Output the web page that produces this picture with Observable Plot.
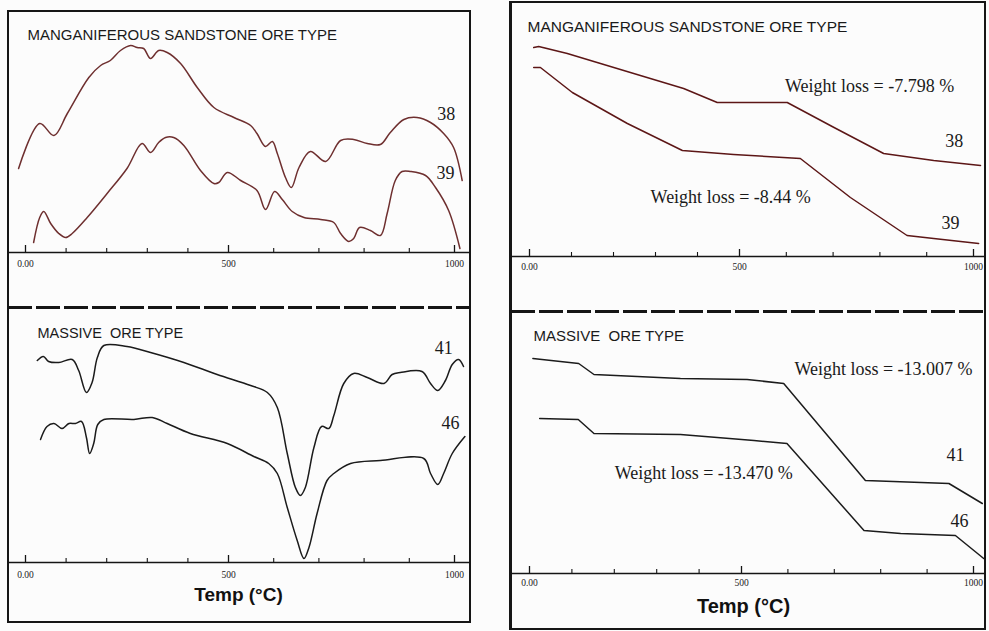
<!DOCTYPE html>
<html><head><meta charset="utf-8">
<script src="https://cdn.jsdelivr.net/npm/d3@7"></script>
<script src="https://cdn.jsdelivr.net/npm/@observablehq/plot@0.6"></script>
<style>
html,body{margin:0;padding:0;background:#fff;}
#root{position:relative;width:989px;height:631px;overflow:hidden;background:#fcfcfc;}
.box{position:absolute;border:2px solid #161616;box-sizing:border-box;}
.dash{position:absolute;height:3px;background:repeating-linear-gradient(90deg,#151515 0 24px,transparent 24px 28px);}
.panel{position:absolute;}
</style></head><body>
<div id="root">
  <div class="box" style="left:7px;top:10px;width:464px;height:613px;"></div>
  <div class="box" style="left:509px;top:1px;width:477px;height:629px;border-left-width:3px;"></div>
  <div class="dash" style="left:8px;top:306px;width:462px;"></div>
  <div class="dash" style="left:511px;top:310px;width:474px;"></div>
  <div class="panel" id="p1" style="left:8px;top:10px;"></div>
  <div class="panel" id="p2" style="left:8px;top:310px;"></div>
  <div class="panel" id="p3" style="left:510px;top:2px;"></div>
  <div class="panel" id="p4" style="left:510px;top:315px;"></div>
</div>
<script>
const sans = "'Liberation Sans', Arial, sans-serif";
const serif = "'Liberation Serif', 'Times New Roman', serif";

// Temperature axis (°C)
const tickMajor = [0, 500, 1000];
const tickMinor = [100, 200, 300, 400, 600, 700, 800, 900];

// DTA – manganiferous sandstone ore (arbitrary signal units)
const dtaSand38T = [-17, 35, 70, 103, 156, 185, 209, 234, 259, 275, 291, 308, 328, 349, 382, 423, 464, 512, 549, 563, 582, 597, 608, 626, 639, 656, 681, 715, 748, 777, 807, 836, 858, 888, 917, 947, 976, 998, 1017];
const dtaSand38S = [84, 129, 117, 139, 175, 187, 192, 202, 207, 205, 204, 194, 202, 200, 189, 165, 145, 135, 127, 119, 106, 111, 99, 75, 65, 85, 101, 91, 112, 113, 109, 108, 120, 133, 135, 130, 119, 105, 72];
const dtaSand39T = [20, 35, 45, 62, 82, 99, 115, 152, 201, 250, 287, 308, 328, 345, 365, 390, 431, 464, 476, 497, 527, 563, 582, 602, 619, 641, 667, 704, 733, 748, 766, 777, 790, 814, 836, 851, 869, 884, 903, 936, 958, 987, 1012];
const dtaSand39S = [10, 35, 41, 29, 19, 15, 19, 35, 59, 84, 109, 100, 110, 115, 115, 107, 82, 69, 70, 80, 72, 62, 43, 61, 53, 41, 35, 33, 30, 19, 11, 14, 25, 22, 17, 39, 72, 81, 81, 77, 65, 42, 4];

// DTA – massive ore
const dtaMass41T = [29, 44, 57, 82, 115, 131, 150, 164, 177, 193, 250, 308, 390, 472, 549, 586, 608, 630, 648, 659, 670, 689, 706, 722, 733, 755, 777, 807, 844, 862, 880, 928, 947, 963, 980, 995, 1009, 1020];
const dtaMass41S = [202, 206, 201, 200, 203, 192, 170, 180, 205, 217, 216, 210, 200, 188, 177, 170, 155, 109, 75, 67, 75, 115, 136, 134, 147, 179, 189, 185, 179, 188, 190, 191, 179, 172, 182, 198, 203, 196];
const dtaMass46T = [37, 53, 70, 90, 107, 123, 138, 150, 158, 168, 178, 193, 267, 312, 349, 406, 497, 556, 589, 608, 630, 652, 667, 678, 696, 718, 733, 770, 836, 932, 947, 963, 976, 995, 1023];
const dtaMass46S = [123, 136, 139, 134, 139, 139, 141, 125, 109, 119, 138, 143, 143, 145, 139, 129, 119, 106, 99, 89, 55, 22, 4, 15, 49, 82, 89, 99, 102, 104, 89, 78, 89, 109, 126];

// TGA – manganiferous sandstone ore (relative weight units)
const tgaSand38T = [10, 22, 90, 169, 264, 367, 447, 602, 702, 808, 915, 1015];
const tgaSand38S = [209, 210, 203, 193, 181, 168, 154, 154, 129, 103, 96, 91];
const tgaSand39T = [10, 26, 102, 233, 364, 486, 630, 737, 858, 915, 1011];
const tgaSand39S = [189, 189, 164, 133, 106, 102, 98, 59, 21, 18, 13];

// TGA – massive ore
const tgaMass41T = [8, 116, 152, 356, 512, 591, 767, 947, 1019];
const tgaMass41S = [215, 210, 199, 195, 194, 190, 93, 90, 70];
const tgaMass46T = [24, 115, 152, 356, 527, 598, 764, 843, 961, 1022];
const tgaMass46S = [155, 154, 140, 139, 133, 130, 43, 40, 38, 15];

// Annotations
const dtaSandNum = ["38", "39"], dtaSandNumT = [982, 980], dtaSandNumS = [138, 79];
const dtaMassNum = ["41", "46"], dtaMassNumT = [976, 991], dtaMassNumS = [214, 139];
const tgaSandNum = ["38", "39"], tgaSandNumT = [959, 951], tgaSandNumS = [115, 33];
const tgaSandLoss = ["Weight loss = -7.798 %", "Weight loss = -8.44 %"], tgaSandLossT = [778, 479], tgaSandLossS = [170, 59];
const tgaMassNum = ["41", "46"], tgaMassNumT = [961, 970], tgaMassNumS = [118, 52];
const tgaMassLoss = ["Weight loss = -13.007 %", "Weight loss = -13.470 %"], tgaMassLossT = [806, 411], tgaMassLossS = [204, 100];

const titleSand = "MANGANIFEROUS SANDSTONE ORE TYPE";
const titleMass = "MASSIVE\u00a0 ORE TYPE";
const xLabel = "Temp (°C)";

function rows(list) {
  return list.flatMap(([id, T, S]) => T.map((t, i) => ({id, t, s: S[i]})));
}
function ann(text, T, S) {
  return text.map((d, i) => ({text: d, t: T[i], s: S[i]}));
}

function makePanel(c) {
  const innerH = c.height - c.marginTop - c.marginBottom;
  const marks = [
    Plot.ruleY([0], {insetLeft: -c.marginLeft, insetRight: -c.marginRight, stroke: "#151515", strokeWidth: 1.7}),
    Plot.ruleX(tickMinor, {x: d => d, insetTop: innerH - 4, stroke: "#151515", strokeWidth: 1.1}),
    Plot.ruleX(tickMajor, {x: d => d, insetTop: innerH - 7, stroke: "#151515", strokeWidth: 1.3}),
    Plot.axisX(tickMajor, {tickSize: 0, tickPadding: c.tickPad, tickFormat: d => d === 0 ? "0.00" : String(d), fontFamily: serif, fontSize: 9.5, fill: "#1a1a1a", label: null}),
    Plot.line(rows(c.series), {x: "t", y: "s", z: "id", stroke: c.stroke, strokeWidth: 1.5, curve: c.curve}),
    Plot.text(c.nums, {x: "t", y: "s", text: "text", fontFamily: serif, fontSize: 18, fill: "#1a1a1a"}),
    Plot.text([c.title], {frameAnchor: "top-left", textAnchor: "start", lineAnchor: "middle", dx: c.titleDx, dy: c.titleDy, fontFamily: sans, fontSize: c.titleSize, fill: "#1a1a1a"})
  ];
  if (c.loss) marks.push(Plot.text(c.loss, {x: "t", y: "s", text: "text", fontFamily: serif, fontSize: 18, fill: "#1a1a1a"}));
  if (c.xLabel) marks.push(Plot.text([c.xLabel], {frameAnchor: "bottom", lineAnchor: "middle", dx: c.labelDx, dy: c.labelDy, fontFamily: sans, fontWeight: "bold", fontSize: c.labelSize, fill: "#111"}));
  return Plot.plot({
    width: c.width, height: c.height,
    marginLeft: c.marginLeft, marginRight: c.marginRight, marginTop: c.marginTop, marginBottom: c.marginBottom,
    x: {type: "linear", domain: [0, 500, 1000], range: c.xRange, label: null},
    y: {type: "linear", domain: [0, 225], axis: null, label: null},
    style: {background: "transparent", overflow: "visible"},
    marks
  });
}

document.getElementById("p1").appendChild(makePanel({
  width: 462, height: 290, marginLeft: 17, marginRight: 16, marginTop: 17, marginBottom: 48,
  xRange: [17, 220, 446], tickPad: 8,
  series: [["38", dtaSand38T, dtaSand38S], ["39", dtaSand39T, dtaSand39S]],
  stroke: "#6e2f2f", curve: "catmull-rom",
  nums: ann(dtaSandNum, dtaSandNumT, dtaSandNumS),
  title: titleSand, titleDx: 2, titleDy: 8, titleSize: 15
}));
document.getElementById("p2").appendChild(makePanel({
  width: 462, height: 310, marginLeft: 17, marginRight: 16, marginTop: 27, marginBottom: 58,
  xRange: [17, 220, 446], tickPad: 9,
  series: [["41", dtaMass41T, dtaMass41S], ["46", dtaMass46T, dtaMass46S]],
  stroke: "#1b1b1b", curve: "catmull-rom",
  nums: ann(dtaMassNum, dtaMassNumT, dtaMassNumS),
  title: titleMass, titleDx: 12, titleDy: -4, titleSize: 14.5,
  xLabel, labelDx: -1.5, labelDy: 32, labelSize: 19
}));
document.getElementById("p3").appendChild(makePanel({
  width: 475, height: 298, marginLeft: 19, marginRight: 12, marginTop: 29, marginBottom: 44,
  xRange: [19, 229, 463], tickPad: 7,
  series: [["38", tgaSand38T, tgaSand38S], ["39", tgaSand39T, tgaSand39S]],
  stroke: "#5c1616", curve: "linear",
  nums: ann(tgaSandNum, tgaSandNumT, tgaSandNumS),
  loss: ann(tgaSandLoss, tgaSandLossT, tgaSandLossS),
  title: titleSand, titleDx: -2, titleDy: -4, titleSize: 15.5
}));
document.getElementById("p4").appendChild(makePanel({
  width: 475, height: 316, marginLeft: 19, marginRight: 12, marginTop: 33, marginBottom: 58,
  xRange: [19, 231, 463], tickPad: 6,
  series: [["41", tgaMass41T, tgaMass41S], ["46", tgaMass46T, tgaMass46S]],
  stroke: "#1b1b1b", curve: "linear",
  nums: ann(tgaMassNum, tgaMassNumT, tgaMassNumS),
  loss: ann(tgaMassLoss, tgaMassLossT, tgaMassLossS),
  title: titleMass, titleDx: 4, titleDy: -12, titleSize: 15,
  xLabel, labelDx: -8, labelDy: 33, labelSize: 20
}));
</script>
</body></html>
